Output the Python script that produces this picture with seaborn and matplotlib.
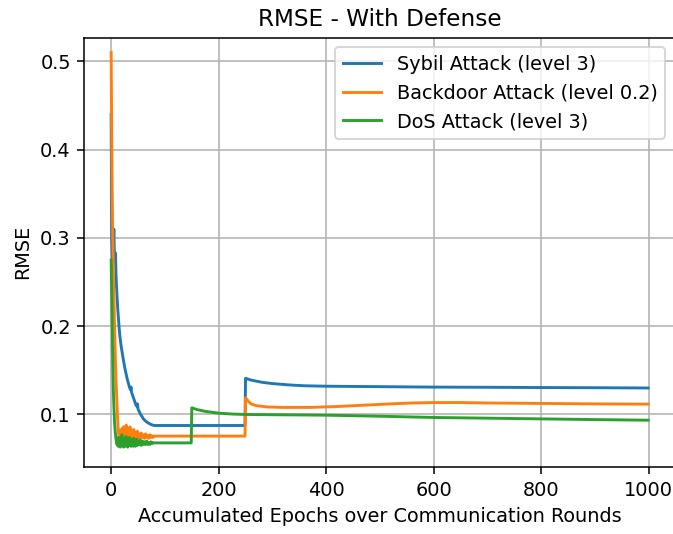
import matplotlib
matplotlib.use("Agg")
import matplotlib.pyplot as plt
import seaborn as sns
import pandas as pd

# ---- data ----
sybil_x = [0, 1, 2, 3, 4, 5, 6, 7, 8, 9, 10, 12, 14, 16, 18, 20, 23, 26, 30, 34, 36, 37, 38, 42, 46, 48, 49, 50,
           55, 60, 65, 70, 75, 80, 249, 250, 260, 280, 300, 330, 360, 400, 500, 600, 700, 800, 900, 999]
sybil_y = [0.44, 0.30, 0.28, 0.27, 0.29, 0.31, 0.283, 0.275, 0.283, 0.26, 0.245, 0.222, 0.205, 0.190, 0.180, 0.172,
           0.161, 0.151, 0.140, 0.131, 0.128, 0.131, 0.125, 0.118, 0.111, 0.109, 0.112, 0.106,
           0.100, 0.095, 0.092, 0.090, 0.0885, 0.0875, 0.0875, 0.141, 0.139, 0.1365, 0.135, 0.1335, 0.1325, 0.132,
           0.1315, 0.131, 0.1308, 0.1305, 0.1303, 0.130]

backdoor_x = [0, 1, 2, 3, 4, 5, 6, 7, 8, 9, 10, 11, 12, 13, 14,
              15, 16, 17, 18, 19, 20, 21, 22, 23, 24, 25, 26, 27, 28, 29, 30, 31, 32, 33, 34, 35, 36, 37, 38, 39,
              40, 41, 42, 43, 44, 45, 46, 47, 48, 49, 50, 52, 54, 56, 58, 60, 62, 64, 66, 68, 70, 72, 74, 76, 78,
              80, 249, 250, 255, 260, 270, 290, 320, 370, 420, 470, 520, 560, 600, 650, 700, 800, 900, 999]
backdoor_y = [0.51, 0.42, 0.35, 0.30, 0.27, 0.24, 0.21, 0.185, 0.16, 0.14, 0.125, 0.11, 0.095, 0.085, 0.078,
              0.074, 0.082, 0.072, 0.079, 0.071, 0.084, 0.075, 0.073, 0.086, 0.076, 0.072, 0.081, 0.074, 0.088,
              0.075, 0.072, 0.083, 0.074, 0.079, 0.072, 0.086, 0.076, 0.073, 0.081, 0.074,
              0.078, 0.072, 0.083, 0.075, 0.073, 0.080, 0.074, 0.077, 0.072, 0.081, 0.074, 0.078, 0.073, 0.079,
              0.074, 0.077, 0.073, 0.078, 0.074, 0.076, 0.073, 0.077, 0.074, 0.076, 0.074,
              0.0755, 0.0755, 0.119, 0.115, 0.112, 0.110, 0.1085, 0.108, 0.108, 0.109, 0.1105, 0.112, 0.113,
              0.1135, 0.1135, 0.113, 0.1125, 0.112, 0.1117]

dos_x = [0, 1, 2, 3, 4, 5, 6, 7, 8, 9, 10, 11,
         12, 13, 14, 15, 16, 17, 18, 19, 20, 21, 22, 23, 24, 25, 26, 27, 28, 29, 30, 31, 32, 33, 34, 35, 36, 37,
         38, 39, 40, 41, 42, 43, 44, 45, 46, 47, 48, 49, 50, 52, 54, 56, 58, 60, 62, 64, 66, 68, 70, 72, 74, 76,
         78, 80, 149, 150, 160, 175, 200, 225, 250, 300, 400, 500, 600, 700, 800, 900, 999]
dos_y = [0.275, 0.24, 0.20, 0.16, 0.13, 0.11, 0.095, 0.085, 0.078, 0.072, 0.069, 0.066,
         0.071, 0.064, 0.074, 0.066, 0.069, 0.063, 0.072, 0.065, 0.077, 0.066, 0.068, 0.063, 0.073, 0.065, 0.070,
         0.064, 0.075, 0.066, 0.068, 0.063, 0.071, 0.065, 0.074, 0.066, 0.069, 0.064,
         0.072, 0.066, 0.070, 0.064, 0.073, 0.066, 0.068, 0.064, 0.071, 0.066, 0.072, 0.065, 0.069, 0.066, 0.071,
         0.065, 0.070, 0.066, 0.069, 0.066, 0.070, 0.066, 0.068, 0.066, 0.069, 0.067,
         0.068, 0.0678, 0.0678, 0.1075, 0.1055, 0.1035, 0.1015, 0.1005, 0.100, 0.0997, 0.0992, 0.098, 0.0966,
         0.0958, 0.095, 0.0942, 0.0935]

labels = ["Sybil Attack (level 3)", "Backdoor Attack (level 0.2)", "DoS Attack (level 3)"]
colors = ["#1f77b4", "#ff7f0e", "#2ca02c"]

DPI = 139
fig = plt.figure(figsize=(673 / DPI, 534 / DPI), dpi=DPI)
ax = fig.add_axes([84.3 / 673, 1 - 467 / 534, (675 - 84.3) / 673, (467 - 37.5) / 534])

for xs, ys, lab, col in zip([sybil_x, backdoor_x, dos_x], [sybil_y, backdoor_y, dos_y], labels, colors):
    df = pd.DataFrame({"x": xs, "y": ys})
    sns.lineplot(data=df, x="x", y="y", ax=ax, color=col, label=lab, linewidth=1.5, estimator=None, sort=False)

ax.set_xlim(-49.95, 1048.95)
ax.set_ylim(0.0405, 0.527)
ax.set_yticks([0.1, 0.2, 0.3, 0.4, 0.5])
ax.set_xticks([0, 200, 400, 600, 800, 1000])
ax.grid(True)
ax.set_title("RMSE - With Defense", fontsize=12)
ax.set_xlabel("Accumulated Epochs over Communication Rounds", fontsize=10)
ax.set_ylabel("RMSE", fontsize=10)
ax.legend(loc="upper right", fontsize=10)

fig.savefig("out.png", dpi=DPI)
